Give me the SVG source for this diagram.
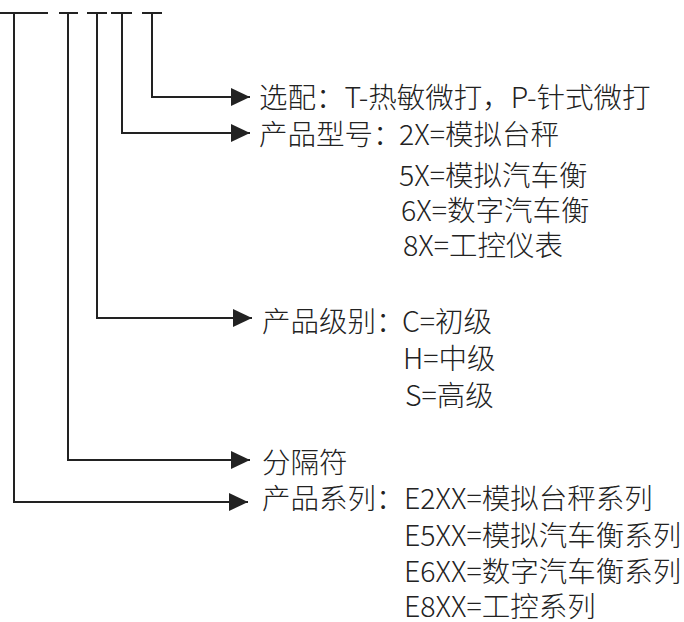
<svg xmlns="http://www.w3.org/2000/svg" width="684" height="622" viewBox="0 0 684 622">
<defs>
<style>
.t{font-family:"Noto Sans CJK SC","Noto Sans",sans-serif;font-size:28.5px;font-weight:300;fill:#222}
.ln{fill:none;stroke:#222;stroke-width:2}
</style>
<marker id="ah" markerWidth="19" markerHeight="18" refX="19" refY="9" orient="auto" markerUnits="userSpaceOnUse">
<path d="M0,0 L19,9 L0,18 Z" fill="#222"/>
</marker>
</defs>
<rect width="684" height="622" fill="#fff"/>
<g id="connectors">
<path class="ln" d="M0,13 H48 M59,13 H78 M87,13 H107 M111,13 H132 M142,13 H162"/>
<path class="ln" d="M152,13 V97 H250" marker-end="url(#ah)"/>
<path class="ln" d="M122,13 V133 H250" marker-end="url(#ah)"/>
<path class="ln" d="M97,13 V318 H252" marker-end="url(#ah)"/>
<path class="ln" d="M68,13 V460 H250" marker-end="url(#ah)"/>
<path class="ln" d="M14,13 V502 H248" marker-end="url(#ah)"/>
</g>
<g id="option">
<text class="t" x="259" y="108">选配：T-热敏微打，P-针式微打</text>
</g>
<g id="model">
<text class="t" x="259" y="145">产品型号：</text>
<text class="t" x="399" y="145">2X=模拟台秤</text>
<text class="t" x="399" y="186">5X=模拟汽车衡</text>
<text class="t" x="401" y="221">6X=数字汽车衡</text>
<text class="t" x="403" y="256">8X=工控仪表</text>
</g>
<g id="level">
<text class="t" x="262" y="332">产品级别：</text>
<text class="t" x="402" y="332">C=初级</text>
<text class="t" x="403" y="369">H=中级</text>
<text class="t" x="405" y="406">S=高级</text>
</g>
<g id="separator">
<text class="t" x="262" y="473">分隔符</text>
</g>
<g id="series">
<text class="t" x="262" y="509">产品系列：</text>
<text class="t" x="404" y="509">E2XX=模拟台秤系列</text>
<text class="t" x="404" y="546">E5XX=模拟汽车衡系列</text>
<text class="t" x="404" y="582">E6XX=数字汽车衡系列</text>
<text class="t" x="404" y="617">E8XX=工控系列</text>
</g>
</svg>
